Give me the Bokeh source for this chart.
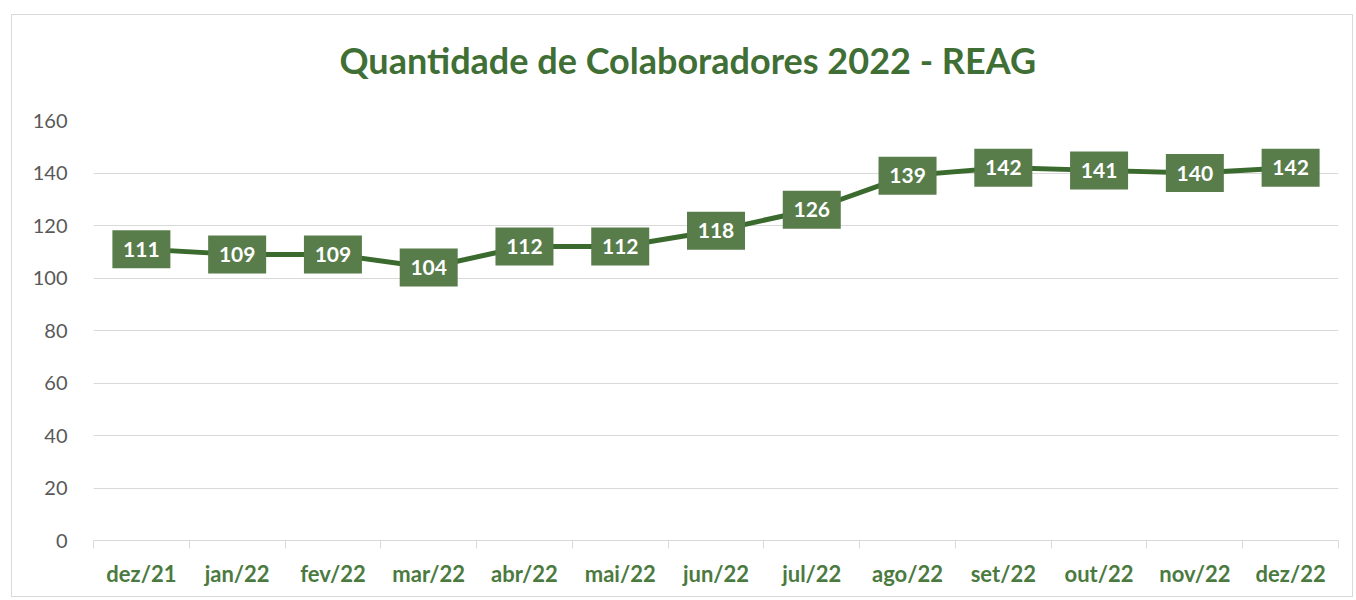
import numpy as np
from bokeh.plotting import figure
from bokeh.models import ColumnDataSource, FixedTicker, Range1d, Title
from bokeh.embed import file_html
from bokeh.resources import INLINE
from bokeh.core.properties import value

months = ["dez/21", "jan/22", "fev/22", "mar/22", "abr/22", "mai/22", "jun/22",
          "jul/22", "ago/22", "set/22", "out/22", "nov/22", "dez/22"]
counts = [111, 109, 109, 104, 112, 112, 118, 126, 139, 142, 141, 140, 142]
y_ticks = [0, 20, 40, 60, 80, 100, 120, 140, 160]
title_text = "Quantidade de Colaboradores 2022 - REAG"

FONT = "Lato"
GREEN_TXT = "#3f6f35"
LABEL_GREEN = "#4b7a3f"
LINE_GREEN = "#3b6a2f"
BOX_GREEN = "#587d4b"

x = np.arange(len(months)) + 0.5
src = ColumnDataSource(dict(x=x, y=counts, label=[str(c) for c in counts]))

p = figure(frame_width=1245, frame_height=420,
           output_backend="svg", toolbar_location=None,
           x_range=Range1d(0, len(months)), y_range=Range1d(0, 160),
           min_border_left=81, min_border_right=14,
           min_border_top=105, min_border_bottom=56)
p.styles = {"border": "1px solid #d9d9d9", "margin-left": "11px", "margin-top": "14px"}
p.outline_line_color = None
p.background_fill_color = "white"
p.border_fill_color = "white"

# default title unused; titles stacked via add_layout (later ones sit farther out)
p.title.text = ""
p.title.standoff = 0
p.title.text_font_size = "1px"

spacer = Title(text=" ", text_font_size="1px", standoff=29)
p.add_layout(spacer, "above")

main_title = Title(text=title_text, align="left", vertical_align="top", offset=246,
                   standoff=10, text_color=GREEN_TXT, text_font=FONT,
                   text_font_style="bold", text_font_size="36px")
p.add_layout(main_title, "above")

# y axis
p.yaxis.ticker = FixedTicker(ticks=y_ticks)
p.yaxis.axis_line_color = None
p.yaxis.major_tick_line_color = None
p.yaxis.minor_tick_line_color = None
p.yaxis.major_label_text_color = "#595959"
p.yaxis.major_label_text_font = FONT
p.yaxis.major_label_text_font_size = "20px"
p.yaxis.major_label_standoff = 20
p.ygrid.grid_line_color = "#d9d9d9"
p.ygrid.ticker = FixedTicker(ticks=y_ticks)
p.xgrid.grid_line_color = None

# x axis: labels at centers, tick marks at category boundaries
p.xaxis.ticker = FixedTicker(ticks=list(x), minor_ticks=list(range(len(months) + 1)))
p.xaxis.major_label_overrides = {float(xi): m for xi, m in zip(x, months)}
p.xaxis.major_tick_line_color = None
p.xaxis.major_tick_out = 0
p.xaxis.major_tick_in = 0
p.xaxis.minor_tick_line_color = "#d9d9d9"
p.xaxis.minor_tick_out = 8
p.xaxis.minor_tick_in = 0
p.xaxis.axis_line_color = "#d9d9d9"
p.xaxis.major_label_text_color = LABEL_GREEN
p.xaxis.major_label_text_font = FONT
p.xaxis.major_label_text_font_style = "bold"
p.xaxis.major_label_text_font_size = "22px"
p.xaxis.major_label_standoff = 11

p.line("x", "y", source=src, line_width=5, line_color=LINE_GREEN)
p.rect("x", "y", width=58, height=38, width_units="screen", height_units="screen",
       source=src, fill_color=BOX_GREEN, line_color=None)
p.text("x", "y", text="label", source=src, text_align="center", text_baseline="middle",
       text_color="white", text_font=value(FONT), text_font_style="bold",
       text_font_size="21px")

open("out.html", "w").write(file_html(p, INLINE))
